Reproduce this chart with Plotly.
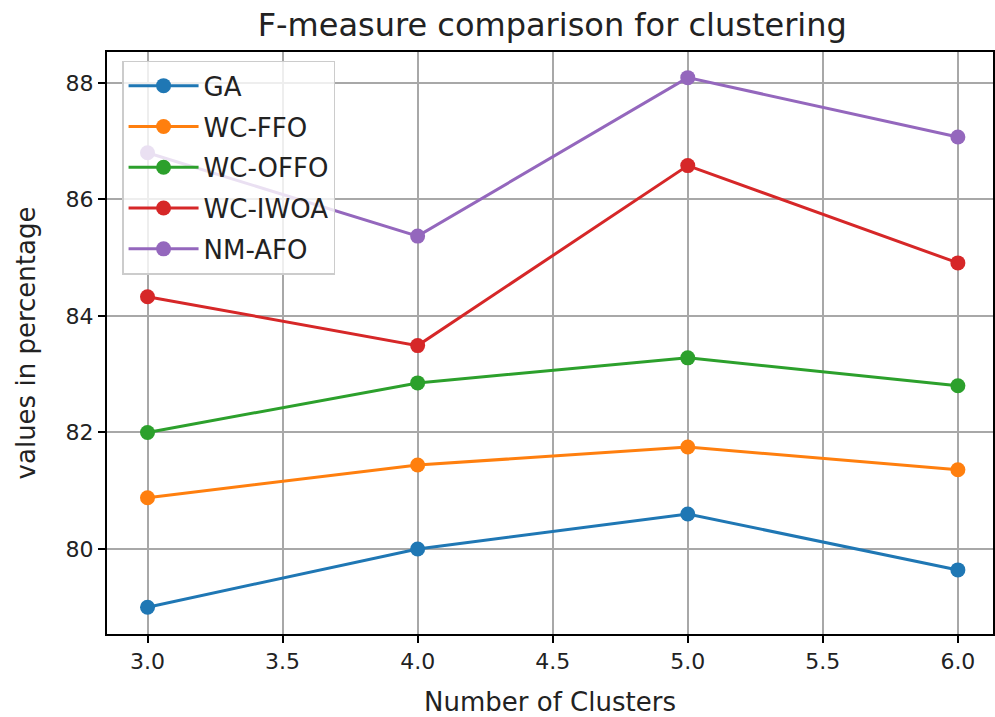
import plotly.graph_objects as go

clusters = [3.0, 4.0, 5.0, 6.0]
ga = [79.0, 80.0, 80.6, 79.64]
wc_ffo = [80.88, 81.44, 81.75, 81.36]
wc_offo = [82.0, 82.85, 83.28, 82.80]
wc_iwoa = [84.33, 83.49, 86.58, 84.91]
nm_afo = [86.8, 85.37, 88.09, 87.07]

series_names = ["GA", "WC-FFO", "WC-OFFO", "WC-IWOA", "NM-AFO"]
series_values = [ga, wc_ffo, wc_offo, wc_iwoa, nm_afo]
colors = ["#1f77b4", "#ff7f0e", "#2ca02c", "#d62728", "#9467bd"]

x_ticks = [3.0, 3.5, 4.0, 4.5, 5.0, 5.5, 6.0]
x_tick_labels = ["3.0", "3.5", "4.0", "4.5", "5.0", "5.5", "6.0"]
y_ticks = [80, 82, 84, 86, 88]
y_tick_labels = ["80", "82", "84", "86", "88"]

FONT = "DejaVu Sans"

fig = go.Figure()
for i, (name, vals, col) in enumerate(zip(series_names, series_values, colors)):
    fig.add_trace(go.Scatter(
        x=clusters, y=vals, name=name, mode="lines+markers",
        line=dict(color=col, width=3),
        marker=dict(color=col, size=15),
        legendgroup=f"g{i}",
    ))

axis_common = dict(
    showline=True, linecolor="black", linewidth=2, mirror=True,
    ticks="outside", ticklen=7, tickwidth=1.5, tickcolor="black",
    showgrid=True, gridcolor="#a8a8a8", gridwidth=1.5,
    zeroline=False,
    tickfont=dict(family=FONT, size=22, color="#222"),
)

fig.update_layout(
    width=995, height=717,
    margin=dict(l=107, r=0, t=52, b=83),
    paper_bgcolor="white", plot_bgcolor="white",
    title=dict(text="F-measure comparison for clustering",
               font=dict(family=FONT, size=32, color="#222"),
               x=0.555, xanchor="center", y=0.965, yanchor="middle"),
    xaxis=dict(range=[2.85, 6.13], tickvals=x_ticks, ticktext=x_tick_labels,
               title=dict(text="Number of Clusters", font=dict(family=FONT, size=26, color="#222"),
                          standoff=19),
               **axis_common),
    yaxis=dict(range=[78.54, 88.53], tickvals=y_ticks, ticktext=y_tick_labels,
               title=dict(text="values in percentage", font=dict(family=FONT, size=26, color="#222"),
                          standoff=22),
               **axis_common),
    legend=dict(x=0.017, y=0.985, xanchor="left", yanchor="top",
                bgcolor="rgba(255,255,255,0.8)", bordercolor="#cccccc", borderwidth=1.5,
                font=dict(family=FONT, size=26, color="#222"),
                traceorder="grouped", tracegroupgap=4, itemwidth=70),
    showlegend=True,
)

fig.write_html("out.html")
